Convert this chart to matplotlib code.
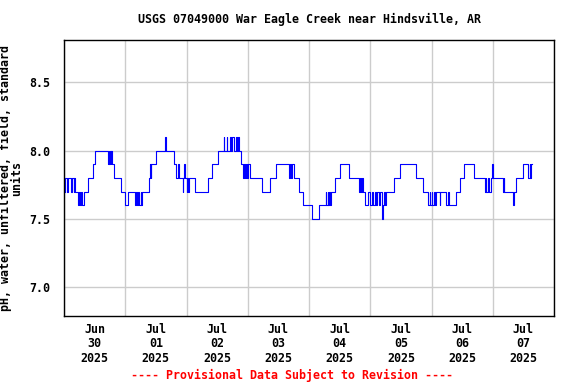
import matplotlib
matplotlib.use('Agg')
import matplotlib.pyplot as plt
import matplotlib.dates as mdates
import pandas as pd
import numpy as np

plt.rcParams['font.family'] = 'DejaVu Sans Mono'
plt.rcParams['font.weight'] = 'bold'

title = 'USGS 07049000 War Eagle Creek near Hindsville, AR'
ylabel = 'pH, water, unfiltered, field, standard\nunits'
footer = '---- Provisional Data Subject to Revision ----'
start = pd.Timestamp('2025-06-30 00:00')

# change points of the step series: hours after Jun 30 00:00, pH value
hours = [0.25, 0.5, 1.25, 1.5, 2.75, 3.0, 3.75, 4.0, 4.25,
         5.5, 6.0, 6.25, 6.75, 7.0, 7.75,
         9.5, 11.25, 12.0, 17.25, 17.5, 17.75, 18.0, 18.25, 18.5, 18.75,
         19.5, 22.25, 23.75, 25.25,
         28.0, 28.25, 28.75, 29.0, 29.5, 30.0, 30.25, 30.75,
         33.25, 33.75, 34.0, 34.25, 36.0, 39.75, 40.0,
         43.25, 44.0, 44.5, 45.25, 46.5, 46.75, 47.0, 47.25, 48.0, 48.25, 48.5, 49.0,
         51.5, 56.5, 58.0, 60.25,
         62.5, 62.75, 63.75, 64.0, 65.0, 65.25, 66.0, 66.5, 67.25, 67.75, 68.25, 68.5,
         69.25, 70.25, 70.5, 71.0, 71.25, 71.75, 72.25, 72.75,
         77.75, 80.75, 83.25, 88.25, 88.75, 89.0, 89.5, 90.0,
         92.0, 93.5, 97.25, 100.0,
         102.5, 102.75, 103.25, 103.5, 104.0, 104.25, 104.75,
         106.0, 108.0, 111.5, 115.75, 116.0, 116.5, 116.75, 117.0, 118.0,
         119.25, 119.75, 120.5, 121.0, 121.75, 122.25, 122.75, 123.25, 124.0, 124.5,
         124.75, 125.0, 125.5, 125.75, 126.25,
         129.25, 131.5, 138.0, 140.5,
         142.75, 143.25, 143.5, 144.0, 144.25, 145.0, 145.25, 145.75, 147.25, 147.5,
         149.75, 150.5, 151.0, 153.5, 155.0, 156.75, 160.75,
         165.0, 165.25, 165.5, 166.25, 166.5, 167.25, 167.75, 168.0, 172.0, 172.25,
         172.5, 176.0, 176.5, 177.25, 180.0, 182.0, 182.5, 182.75, 183.0, 183.25]
ph = [7.7, 7.8, 7.7, 7.8, 7.7, 7.8, 7.7, 7.8, 7.7,
      7.6, 7.7, 7.6, 7.7, 7.6, 7.7,
      7.8, 7.9, 8.0, 7.9, 8.0, 7.9, 8.0, 7.9, 8.0, 7.9,
      7.8, 7.7, 7.6, 7.7,
      7.6, 7.7, 7.6, 7.7, 7.6, 7.7, 7.6, 7.7,
      7.8, 7.9, 7.8, 7.9, 8.0, 8.1, 8.0,
      7.9, 7.8, 7.9, 7.8, 7.7, 7.8, 7.9, 7.8, 7.7, 7.8, 7.7, 7.8,
      7.7, 7.8, 7.9, 8.0,
      8.1, 8.0, 8.1, 8.0, 8.1, 8.0, 8.1, 8.0, 8.1, 8.0, 8.1, 8.0,
      7.9, 7.8, 7.9, 7.8, 7.9, 7.8, 7.9, 7.8,
      7.7, 7.8, 7.9, 7.8, 7.9, 7.8, 7.9, 7.8,
      7.7, 7.6, 7.5, 7.6,
      7.7, 7.6, 7.7, 7.6, 7.7, 7.6, 7.7,
      7.8, 7.9, 7.8, 7.7, 7.8, 7.7, 7.8, 7.7, 7.6,
      7.7, 7.6, 7.7, 7.6, 7.7, 7.6, 7.7, 7.6, 7.7, 7.6,
      7.5, 7.6, 7.7, 7.6, 7.7,
      7.8, 7.9, 7.8, 7.7,
      7.6, 7.7, 7.6, 7.7, 7.6, 7.7, 7.6, 7.7, 7.6, 7.7,
      7.6, 7.7, 7.6, 7.7, 7.8, 7.9, 7.8,
      7.7, 7.8, 7.7, 7.8, 7.7, 7.8, 7.9, 7.8, 7.7, 7.8,
      7.7, 7.6, 7.7, 7.8, 7.9, 7.8, 7.9, 7.8, 7.9, 7.9]

yticks = [7.0, 7.5, 8.0, 8.5]

times = start + pd.to_timedelta(hours, unit='h')

fig = plt.figure(figsize=(5.76, 3.84), dpi=100)
ax = fig.add_axes([64/576, 68/384, 490/576, 276/384])

ax.step(times, ph, where='post', color='blue', linewidth=0.8)

ax.set_xlim(start, start + pd.Timedelta(days=8))
ax.set_ylim(6.79, 8.81)
ax.set_yticks(yticks)
ax.set_yticklabels(['%.1f' % v for v in yticks])

# labels at noon, grid lines at midnight
ax.xaxis.set_major_locator(mdates.HourLocator(byhour=[12]))
ax.xaxis.set_major_formatter(mdates.DateFormatter('%b\n%d\n%Y'))
ax.xaxis.set_minor_locator(mdates.DayLocator())
ax.grid(which='minor', axis='x', color='#cccccc', linewidth=1)
ax.grid(which='major', axis='y', color='#cccccc', linewidth=1)
ax.set_axisbelow(True)

ax.tick_params(axis='both', which='both', length=0, labelsize=8.4)
ax.tick_params(axis='x', pad=5)
ax.tick_params(axis='y', pad=10)
for lab in ax.get_xticklabels() + ax.get_yticklabels():
    lab.set_fontweight('bold')
    lab.set_linespacing(1.15)
for s in ax.spines.values():
    s.set_linewidth(1)

ax.set_title(title, fontsize=8.4, fontweight='bold', pad=12)
ax.set_ylabel(ylabel, fontsize=8.4, fontweight='bold', linespacing=0.9, labelpad=4)
fig.text(0.507, (384 - 375) / 384, footer, color='red', fontsize=8.4,
         fontweight='bold', ha='center', va='center')

fig.savefig('out.png', dpi=100)
